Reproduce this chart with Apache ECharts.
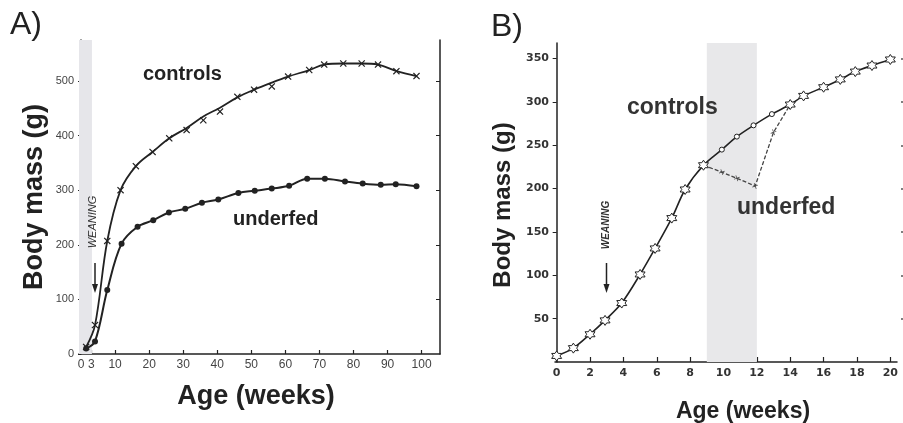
<!DOCTYPE html>
<html><head><meta charset="utf-8">
<script src="https://cdn.jsdelivr.net/npm/echarts@6/dist/echarts.min.js"></script>
<style>html,body{margin:0;padding:0;background:#fff}#c{width:903px;height:423px}</style>
</head><body><div id="c"></div>
<script>
// Panel A (weeks 0-100)
const weeksA_ctrl = [1.5,4.1,7.7,11.6,16.1,21,25.9,31,35.9,40.8,45.9,50.8,56,60.8,67,71.4,77,82.4,87.2,92.6,98.5];
const massA_ctrl  = [13,53,207,300,344,370,395,410,428,444,471,484,490,508,520,530,532,532,530,518,509];
// fitted curve drawn through the control points
const weeksA_ctrlCurve = [1.5,4.1,7.7,11.6,16.1,21,25.9,31,35.9,40.8,45.9,50.8,56,60.8,67,71.4,77,82.4,87.2,92.6,98.5];
const massA_ctrlCurve  = [13,53,207,300,344,370,395,414,435,451,470,484,497,508,520,530,532,532,530,518,509];
const weeksA_under = [1.5,4.1,7.7,11.9,16.6,21.2,25.8,30.6,35.5,40.3,46.2,51,56,61.1,66.4,71.6,77.5,82.7,88,92.4,98.5];
const massA_under  = [10,23,117,202,233,245,259,266,277,283,295,299,303,308,321,321,316,312,310,311,307];
const xLabelsA = [0,3,10,20,30,40,50,60,70,80,90,100];
const xTicksA = [3,10,20,30,40,50,60,70,80,90,100];
const yLabelsA = [0,100,200,300,400,500];
const bandA = [-0.6, 3.2];
// Panel B (weeks 0-20)
const weeksB_ctrl = [0,1,2,2.9,3.9,5,5.9,6.9,7.7,8.8,9.9,10.8,11.8,12.9,14,14.8,16,17,17.9,18.9,20];
const massB_ctrl  = [7,16,32,48,68,101,131,166,199,227,245,260,273,286,297,307,317,326,335,342,349];
const weeksB_under = [8.8,9.9,10.8,11.9,13,14];
const massB_under  = [227,219,212,203,265,297];
const xLabelsB = [0,2,4,6,8,10,12,14,16,18,20];
const yLabelsB = [50,100,150,200,250,300,350];
const bandB = [9, 12];

const pair = (xs, ys) => xs.map((x, i) => [x, ys[i]]);
const INK = '#222';
const XSYM = 'path://M0,1.2L1.2,0L5,3.8L8.8,0L10,1.2L6.2,5L10,8.8L8.8,10L5,6.2L1.2,10L0,8.8L3.8,5Z';
const STAR = 'path://M10,0L12.89,5L18.66,5L15.77,10L18.66,15L12.89,15L10,20L7.11,15L1.34,15L4.23,10L1.34,5L7.11,5Z';
const PLUS = 'path://M4.4,0L5.6,0L5.6,4.4L10,4.4L10,5.6L5.6,5.6L5.6,10L4.4,10L4.4,5.6L0,5.6L0,4.4L4.4,4.4Z';

const chart = echarts.init(document.getElementById('c'), null, {renderer: 'canvas'});
const narrow = '"Liberation Sans Narrow", "Liberation Sans", Arial, sans-serif';
const sans = '"Liberation Sans", Arial, sans-serif';

const txt = (o) => Object.assign({type: 'text', z: 100}, o);

chart.setOption({
  animation: false,
  backgroundColor: '#fff',
  grid: [
    {left: 79, top: 40, width: 361, height: 314},
    {left: 555, top: 43, width: 342, height: 319}
  ],
  xAxis: [
    {type: 'value', gridIndex: 0, min: -0.6, max: 105.4,
     axisLine: {lineStyle: {color: INK, width: 1.5}},
     axisTick: {inside: true, length: 4, customValues: xTicksA, lineStyle: {color: INK, width: 1.2}},
     axisLabel: {customValues: xLabelsA, margin: 5, fontFamily: narrow, fontSize: 12, color: '#444'},
     splitLine: {show: false}},
    {type: 'value', gridIndex: 1, min: -0.1, max: 20.4,
     axisLine: {lineStyle: {color: INK, width: 1.5}},
     axisTick: {inside: true, length: 5, customValues: xLabelsB, lineStyle: {color: INK, width: 1.2}},
     axisLabel: {customValues: xLabelsB, margin: 6, fontFamily: 'DejaVu Sans, sans-serif', fontWeight: 'bold', fontSize: 11, color: '#333'},
     splitLine: {show: false}}
  ],
  yAxis: [
    {type: 'value', gridIndex: 0, min: 0, max: 575,
     axisLine: {show: true, lineStyle: {color: INK, width: 1.5}},
     axisTick: {show: true, length: 3, customValues: yLabelsA, lineStyle: {color: INK}},
     axisLabel: {customValues: yLabelsA, margin: 5, fontFamily: narrow, fontSize: 11, color: '#444'},
     splitLine: {show: false}},
    {type: 'value', gridIndex: 1, min: 0, max: 368,
     axisLine: {show: true, lineStyle: {color: INK, width: 1.5}},
     axisTick: {show: true, length: 4, customValues: yLabelsB, lineStyle: {color: INK}},
     axisLabel: {customValues: yLabelsB, margin: 6, fontFamily: 'DejaVu Sans, sans-serif', fontWeight: 'bold', fontSize: 11, color: '#333'},
     splitLine: {show: false}},
    {type: 'value', gridIndex: 0, position: 'right', min: 0, max: 575,
     axisLine: {show: true, lineStyle: {color: INK, width: 1.5}},
     axisTick: {show: true, inside: true, length: 4, customValues: yLabelsA.slice(1), lineStyle: {color: INK}},
     axisLabel: {show: false}, splitLine: {show: false}},
    {type: 'value', gridIndex: 1, position: 'right', offset: 4, min: 0, max: 368,
     axisLine: {show: false},
     axisTick: {show: true, length: 2, customValues: yLabelsB, lineStyle: {color: '#555', width: 1.5}},
     axisLabel: {show: false}, splitLine: {show: false}}
  ],
  series: [
    {type: 'line', name: 'controls A curve', xAxisIndex: 0, yAxisIndex: 0, smooth: 0.35,
     data: pair(weeksA_ctrlCurve, massA_ctrlCurve), symbol: 'none',
     lineStyle: {color: INK, width: 1.8},
     markArea: {silent: true, itemStyle: {color: '#e6e6ea'}, data: [[{xAxis: bandA[0]}, {xAxis: bandA[1]}]]},
     z: 3},
    {type: 'scatter', name: 'controls A', xAxisIndex: 0, yAxisIndex: 0,
     data: pair(weeksA_ctrl, massA_ctrl), symbol: XSYM, symbolSize: 7,
     itemStyle: {color: INK, opacity: 1}, z: 4},
    {type: 'line', name: 'underfed A', xAxisIndex: 0, yAxisIndex: 0, smooth: 0.35,
     data: pair(weeksA_under, massA_under),
     symbol: 'circle', symbolSize: 6, showAllSymbol: true,
     lineStyle: {color: INK, width: 2}, itemStyle: {color: INK}, z: 3},
    {type: 'line', name: 'controls B', xAxisIndex: 1, yAxisIndex: 1, smooth: 0.3,
     data: pair(weeksB_ctrl, massB_ctrl), showAllSymbol: true,
     symbol: (v) => (v[0] > 9.5 && v[0] < 13.5) ? 'circle' : STAR,
     symbolSize: (v) => (v[0] > 9.5 && v[0] < 13.5) ? 5 : 10,
     lineStyle: {color: INK, width: 1.6}, itemStyle: {color: '#fff', borderColor: INK, borderWidth: 1},
     markArea: {silent: true, itemStyle: {color: '#e8e8ea'}, data: [[{xAxis: bandB[0]}, {xAxis: bandB[1]}]]},
     z: 4},
    {type: 'line', name: 'underfed B', xAxisIndex: 1, yAxisIndex: 1,
     data: pair(weeksB_under, massB_under), showAllSymbol: true,
     symbol: (v, p) => (p.dataIndex === 0 || p.dataIndex === weeksB_under.length - 1) ? 'none' : PLUS,
     symbolSize: 6, symbolRotate: 20,
     lineStyle: {color: '#444', width: 1.3, type: [4, 2]}, itemStyle: {color: '#444'}, z: 3}
  ],
  graphic: [
    txt({x: 10, y: 41, style: {text: 'A)', font: '32px ' + sans, fill: INK, textVerticalAlign: 'bottom'}}),
    txt({x: 491, y: 43, style: {text: 'B)', font: '32px ' + sans, fill: INK, textVerticalAlign: 'bottom'}}),
    txt({x: 35, y: 197, rotation: Math.PI / 2, style: {text: 'Body mass (g)', font: 'bold 27px ' + sans, fill: INK, textAlign: 'center', textVerticalAlign: 'middle'}}),
    txt({x: 503, y: 205, rotation: Math.PI / 2, style: {text: 'Body mass (g)', font: 'bold 24px ' + sans, fill: INK, textAlign: 'center', textVerticalAlign: 'middle'}}),
    txt({x: 256, y: 397, style: {text: 'Age (weeks)', font: 'bold 27px ' + sans, fill: INK, textAlign: 'center', textVerticalAlign: 'middle'}}),
    txt({x: 743, y: 412, style: {text: 'Age (weeks)', font: 'bold 23px ' + sans, fill: INK, textAlign: 'center', textVerticalAlign: 'middle'}}),
    txt({x: 143, y: 74, style: {text: 'controls', font: 'bold 20px ' + sans, fill: INK, textVerticalAlign: 'middle'}}),
    txt({x: 233, y: 219, style: {text: 'underfed', font: 'bold 20px ' + sans, fill: INK, textVerticalAlign: 'middle'}}),
    txt({x: 627, y: 108, style: {text: 'controls', font: 'bold 23px ' + sans, fill: '#333', textVerticalAlign: 'middle'}}),
    txt({x: 737, y: 208, style: {text: 'underfed', font: 'bold 23px ' + sans, fill: '#333', textVerticalAlign: 'middle'}}),
    txt({x: 93, y: 222, rotation: Math.PI / 2, style: {text: 'WEANING', font: 'italic 11px ' + sans, fill: '#333', textAlign: 'center', textVerticalAlign: 'middle'}}),
    txt({x: 606, y: 225, rotation: Math.PI / 2, style: {text: 'WEANING', font: 'italic bold 10px ' + sans, fill: '#333', textAlign: 'center', textVerticalAlign: 'middle'}}),
    {type: 'line', z: 100, shape: {x1: 95, y1: 263, x2: 95, y2: 286}, style: {stroke: INK, lineWidth: 1.5}},
    {type: 'polygon', z: 100, shape: {points: [[92, 284], [98, 284], [95, 293]]}, style: {fill: INK}},
    {type: 'line', z: 100, shape: {x1: 606.5, y1: 263, x2: 606.5, y2: 286}, style: {stroke: INK, lineWidth: 1.5}},
    {type: 'polygon', z: 100, shape: {points: [[603.5, 284], [609.5, 284], [606.5, 293]]}, style: {fill: INK}}
  ]
});
</script></body></html>
